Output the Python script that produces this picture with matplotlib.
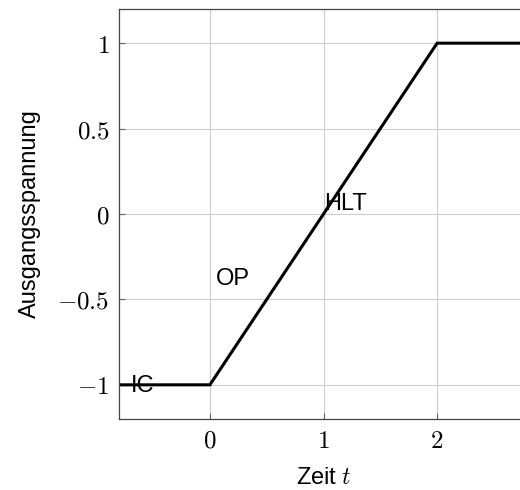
import matplotlib
matplotlib.use("Agg")
import matplotlib.pyplot as plt

plt.rcParams['mathtext.fontset'] = 'cm'
plt.rcParams['font.family'] = ['Liberation Sans', 'DejaVu Sans']

# curve data
zeit = [-0.8, 0, 2, 2.8]
spannung = [-1, -1, 1, 1]

x_ticks = [0, 1, 2]
y_ticks = [-1, -0.5, 0, 0.5, 1]
y_labels = [r'$-1$', r'$-0.5$', r'$0$', r'$0.5$', r'$1$']

# phase labels: text, x, y (baseline)
phasen = [('IC', -0.595, -1.044), ('OP', 0.198, -0.413), ('HLT', 1.19, 0.024)]

fig = plt.figure(figsize=(5.2, 4.9), dpi=100)
ax = fig.add_axes([119 / 520, 71 / 490, 409 / 520, 410 / 490])

ax.plot(zeit, spannung, color='black', linewidth=2.2, solid_joinstyle='miter')
for txt, x, y in phasen:
    ax.text(x, y, txt, fontsize=17, ha='center', va='baseline')

ax.set_xlim(-0.8, 2.8)
ax.set_ylim(-1.2, 1.2)
ax.set_xticks(x_ticks)
ax.set_xticklabels([rf'${v}$' for v in x_ticks])
ax.set_yticks(y_ticks)
ax.set_yticklabels(y_labels)
ax.tick_params(direction='in', length=4, color='#666666', labelsize=18, pad=7)
ax.grid(True, color='#cccccc', linewidth=0.8)
for s in ax.spines.values():
    s.set_color('#444444')
    s.set_linewidth(0.9)

ax.set_xlabel(r'Zeit $t$', fontsize=17, labelpad=10)
ax.set_ylabel('Ausgangsspannung', fontsize=17, labelpad=12)

fig.savefig('out.png', dpi=100)
